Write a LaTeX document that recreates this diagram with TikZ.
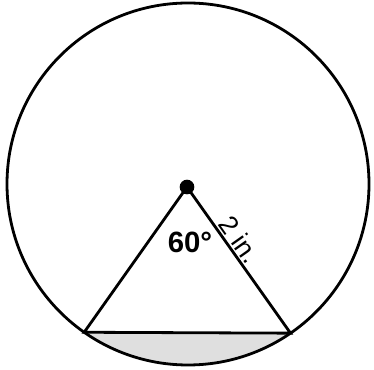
\documentclass[tikz,border=0pt]{standalone}
\usepackage{fontspec}
\setmainfont{Liberation Sans}
\usetikzlibrary{calc}

\begin{document}
\begin{tikzpicture}[x=0.75pt, y=0.75pt, line width=2.1pt,
    dot/.style={circle, fill, inner sep=0pt, minimum size=11pt},
    lbl/.style={font=\fontsize{22}{26}\selectfont\bfseries, inner sep=0pt}]
    \useasboundingbox (0,0) rectangle (374,370);
    \coordinate (mid) at (188,186);
    \coordinate (lft) at ($(mid)+(235:181)$);
    \coordinate (rgt) at ($(mid)+(304.5:181)$);
    \fill[gray!25] (lft) arc[start angle=235, end angle=304.5, radius=181] -- cycle;
    \draw (mid) circle[radius=181];
    \node[dot] (apex) at (187,183) {};
    \draw (apex.center) -- (lft) -- (rgt) -- (apex.center);
    \node[lbl] (ang) at (190,128) {60°};
    \path (apex.center) -- node[pos=0.41, sloped, above=1.5pt, lbl, font=\fontsize{20}{24}\selectfont] (rad) {2 in.} (rgt);
\end{tikzpicture}
\end{document}
